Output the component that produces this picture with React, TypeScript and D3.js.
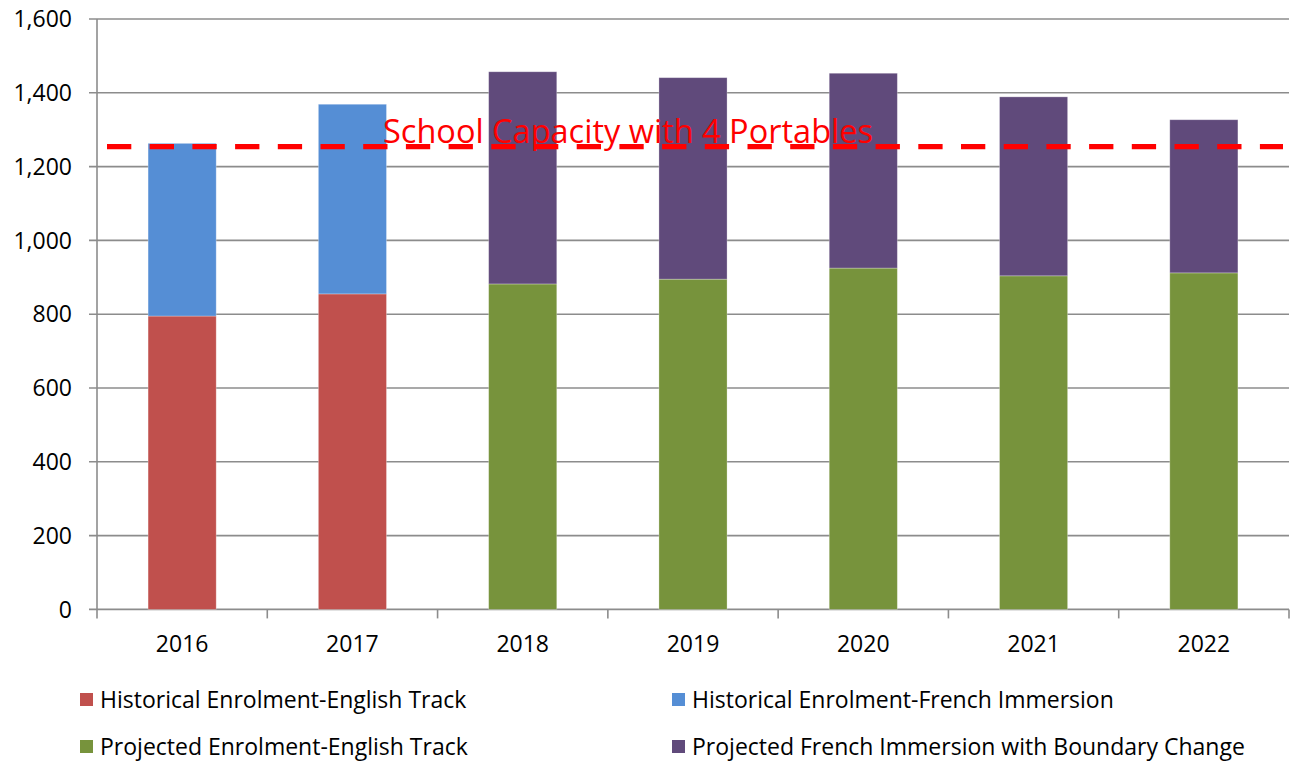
import React from "react";
import * as d3 from "d3";

const years = ["2016", "2017", "2018", "2019", "2020", "2021", "2022"];
const histEnglish = [795, 855, 0, 0, 0, 0, 0];
const histFrench = [468, 514, 0, 0, 0, 0, 0];
const projEnglish = [0, 0, 882, 895, 925, 904, 912];
const projFrench = [0, 0, 575, 546, 528, 485, 415];
const capacity = 1254;
const capacityLabel = "School Capacity with 4 Portables";
const yTicks = [0, 200, 400, 600, 800, 1000, 1200, 1400, 1600];

const seriesNames = [
  "Historical Enrolment-English Track",
  "Historical Enrolment-French Immersion",
  "Projected Enrolment-English Track",
  "Projected French Immersion with Boundary Change",
];
const seriesColors = ["#C0504D", "#558ED5", "#77933C", "#604A7B"];

const W = 1295;
const H = 763;
const left = 97;
const right = 1289;
const top = 19;
const bottom = 609.4;
const FONT = "'Open Sans', sans-serif";

export default function App() {
  const x = d3.scaleBand<string>().domain(years).range([left, right]).paddingInner(0.6).paddingOuter(0.3);
  const y = d3.scaleLinear().domain([0, 1600]).range([bottom, top]);
  const step = x.step();
  const bw = x.bandwidth();

  const seriesData = [histEnglish, histFrench, projEnglish, projFrench];
  const stackData = years.map((yr, i) => ({
    year: yr,
    s0: histEnglish[i],
    s1: histFrench[i],
    s2: projEnglish[i],
    s3: projFrench[i],
  }));
  const stack = d3.stack<any>().keys(["s0", "s2", "s1", "s3"]);
  const stacked = stack(stackData);
  const keyIndex: Record<string, number> = { s0: 0, s1: 1, s2: 2, s3: 3 };

  return (
    <svg width={W} height={H} style={{ position: "absolute", left: 0, top: 0, background: "#fff" }}>
      {yTicks.map((t) => (
        <line key={"g" + t} x1={left - 8} x2={right} y1={y(t)} y2={y(t)} stroke="#8c8c8c" strokeWidth={1.6} />
      ))}
      <line x1={left} x2={left} y1={top} y2={bottom} stroke="#8c8c8c" strokeWidth={1.6} />
      {d3.range(years.length + 1).map((i) => (
        <line key={"xt" + i} x1={left + i * step} x2={left + i * step} y1={bottom} y2={bottom + 9} stroke="#8c8c8c" strokeWidth={1.6} />
      ))}
      {stacked.map((layer) =>
        layer.map((d, i) => {
          const k = keyIndex[layer.key];
          if (!seriesData[k][i]) return null;
          return (
            <rect
              key={layer.key + i}
              x={x(years[i])!}
              y={y(d[1])}
              width={bw}
              height={y(d[0]) - y(d[1])}
              fill={seriesColors[k]}
              stroke="rgba(255,255,255,0.35)"
              strokeWidth={0.8}
            />
          );
        })
      )}
      {yTicks.map((t) => (
        <text key={"yl" + t} x={72} y={y(t)} dy="0.36em" textAnchor="end" fontFamily={FONT} fontSize={23} fill="#000">
          {d3.format(",")(t)}
        </text>
      ))}
      {years.map((yr) => (
        <text key={"xl" + yr} x={x(yr)! + bw / 2} y={652} textAnchor="middle" fontFamily={FONT} fontSize={23} fill="#000">
          {yr}
        </text>
      ))}
      <line x1={107} x2={1283} y1={y(capacity)} y2={y(capacity)} stroke="#FF0000" strokeWidth={5.3} strokeDasharray="24.3 18.4" />
      <text x={383} y={143} fontFamily={FONT} fontSize={33} fill="#FF0000" textLength={490} lengthAdjust="spacingAndGlyphs">
        {capacityLabel}
      </text>
      {seriesNames.map((name, i) => {
        const col = i % 2;
        const row = Math.floor(i / 2);
        const mx = col === 0 ? 80 : 672;
        const by = row === 0 ? 708 : 755;
        return (
          <g key={name}>
            <rect x={mx} y={by - 15} width={13} height={13} fill={seriesColors[i]} />
            <text x={mx + 20} y={by} fontFamily={FONT} fontSize={23} fill="#000">
              {name}
            </text>
          </g>
        );
      })}
    </svg>
  );
}
